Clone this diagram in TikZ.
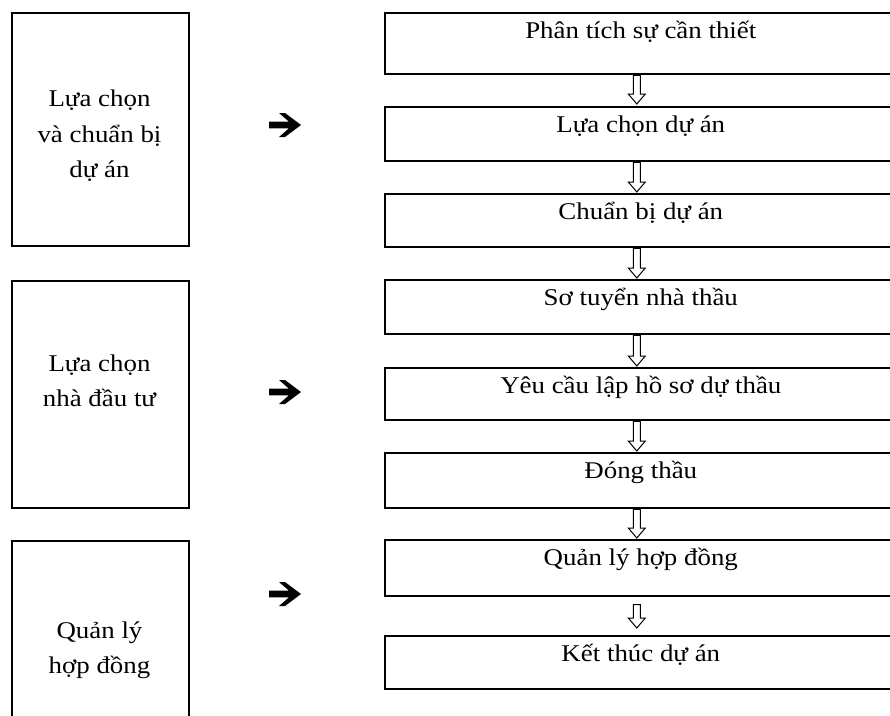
\documentclass[tikz,border=0pt]{standalone}
\usepackage{fontspec}
\setmainfont{Liberation Serif}[FakeStretch=1.12]
\usetikzlibrary{calc}

% hollow down arrow between two step boxes: #1 upper box, #2 lower box,
% #3 gap below the upper box, #4 gap above the lower box
\newcommand\flowstep[4]{%
  \draw[hollow] let \p1=($(#1.south)+(-4,#3)$), \p2=($(#2.north)+(-4,-#4)$) in
    (\x1-3.5pt,\y1) -- (\x1-3.5pt,\y2+10pt) -- (\x1-8.5pt,\y2+10pt) -- (\x1,\y2)
    -- (\x1+8.5pt,\y2+10pt) -- (\x1+3.5pt,\y2+10pt) -- (\x1+3.5pt,\y1) -- cycle;}

\begin{document}
\begin{tikzpicture}[x=1pt,y=-1pt,
  frame/.style={draw, line width=1.6pt, rectangle, inner sep=0pt, anchor=north west},
  stage/.style={frame, minimum width=177pt},
  stepbox/.style={frame, minimum width=512pt, text height=26pt,
    font=\fontsize{24}{30}\selectfont},
  stagetext/.style={align=center, inner sep=0pt, font=\fontsize{24}{35.5}\selectfont},
  hollow/.style={draw, line width=1pt, fill=white},
  heavyarrow/.pic={\fill (-16,-3.3) -- (4,-3.3) -- (-6,-12) -- (0,-12) -- (16,0)
    -- (0,12) -- (-6,12) -- (4,3.3) -- (-16,3.3) -- cycle;}]
\useasboundingbox (0,0) rectangle (890,715);
\clip (0,0) rectangle (890,715);

% phase boxes on the left
\node[stage, minimum height=233pt] (g1) at (11,12) {};
\node[stage, minimum height=227pt] (g2) at (11,280) {};
\node[stage, minimum height=230pt] (g3) at (11,540) {};
\node[stagetext] (t1) at (99.5,136) {Lựa chọn\\và chuẩn bị\\dự án};
\node[stagetext] (t2) at (99.5,381) {Lựa chọn\\nhà đầu tư};
\node[stagetext] (t3) at (99.5,650) {Quản lý\\hợp đồng};

% heavy arrows pointing to the steps
\pic at (285,125) {heavyarrow};
\pic at (285,392) {heavyarrow};
\pic at (285,594) {heavyarrow};

% step boxes on the right
\node[stepbox, text depth=35pt] (s1) at (384,12)  {Phân tích sự cần thiết};
\node[stepbox, text depth=28pt] (s2) at (384,106) {Lựa chọn dự án};
\node[stepbox, text depth=27pt] (s3) at (384,193) {Chuẩn bị dự án};
\node[stepbox, text depth=28pt] (s4) at (384,279) {Sơ tuyển nhà thầu};
\node[stepbox, text depth=26pt] (s5) at (384,367) {Yêu cầu lập hồ sơ dự thầu};
\node[stepbox, text depth=29pt] (s6) at (384,452) {Đóng thầu};
\node[stepbox, text depth=30pt] (s7) at (384,539) {Quản lý hợp đồng};
\node[stepbox, text depth=27pt] (s8) at (384,635) {Kết thúc dự án};

% flow between the steps
\flowstep{s1}{s2}{0.8}{2}
\flowstep{s2}{s3}{0.8}{1}
\flowstep{s3}{s4}{0.8}{1}
\flowstep{s4}{s5}{0.8}{1}
\flowstep{s5}{s6}{0.8}{1}
\flowstep{s6}{s7}{0.8}{1}
\flowstep{s7}{s8}{8}{7}
\end{tikzpicture}
\end{document}
